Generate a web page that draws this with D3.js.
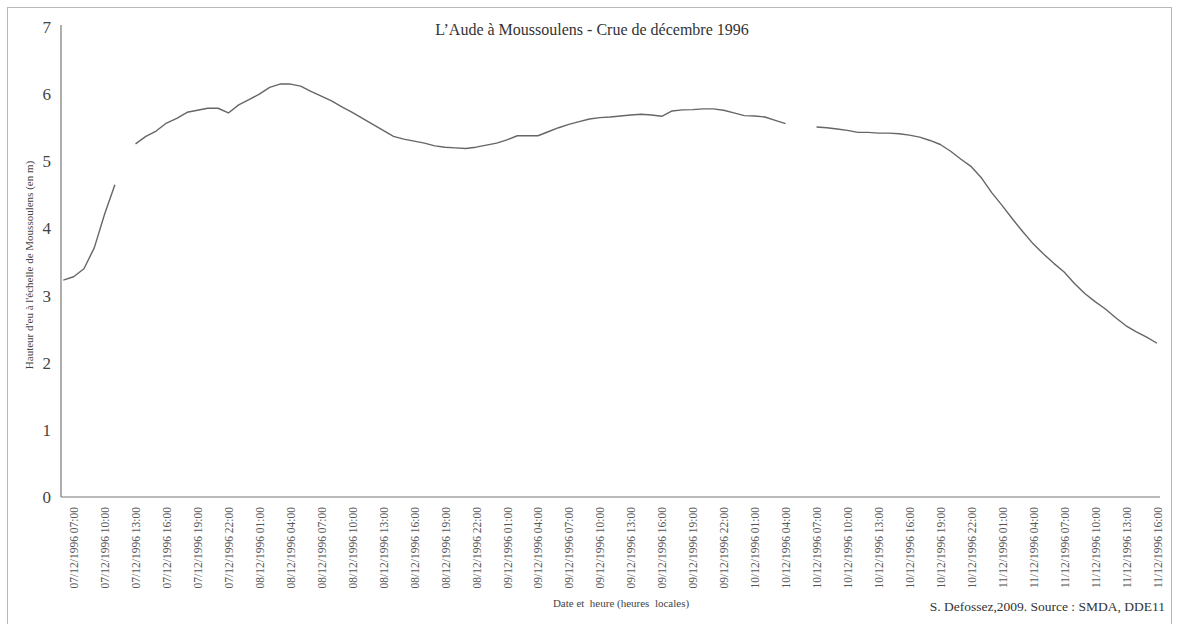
<!DOCTYPE html>
<html>
<head>
<meta charset="utf-8">
<script src="https://cdn.jsdelivr.net/npm/d3@7"></script>
<style>
    body { margin: 0; background: #fff; }
    svg { display: block; font-family: "Liberation Serif", "Times New Roman", serif; }
</style>
</head>
<body>
<svg width="1177" height="624"></svg>
<script>
// hauteurs relevees heure par heure, a partir du 07/12/1996 06:00 (null = pas de mesure)
var debut = "07/12/1996 06:00";
var jour07 = [3.23, 3.28, 3.40, 3.71, 4.21, 4.65, null, 5.26, 5.37, 5.45, 5.57, 5.64, 5.73, 5.76, 5.79, 5.79, 5.72, 5.84];
var jour08 = [5.92, 6.00, 6.10, 6.15, 6.15, 6.12, 6.04, 5.97, 5.90, 5.81, 5.73, 5.64, 5.55, 5.46, 5.37, 5.33, 5.30, 5.27, 5.23, 5.21, 5.20, 5.19, 5.21, 5.24];
var jour09 = [5.27, 5.32, 5.38, 5.38, 5.38, 5.44, 5.50, 5.55, 5.59, 5.63, 5.65, 5.66, 5.675, 5.69, 5.70, 5.69, 5.67, 5.75, 5.765, 5.77, 5.78, 5.78, 5.76, 5.72];
var jour10 = [5.68, 5.675, 5.66, 5.61, 5.56, null, null, 5.51, 5.50, 5.48, 5.46, 5.43, 5.43, 5.42, 5.42, 5.41, 5.39, 5.36, 5.31, 5.25, 5.15, 5.03, 4.92, 4.75];
var jour11 = [4.53, 4.34, 4.14, 3.95, 3.77, 3.62, 3.48, 3.35, 3.18, 3.03, 2.91, 2.80, 2.67, 2.55, 2.46, 2.38, 2.29];
var yTicks = [0, 1, 2, 3, 4, 5, 6, 7];
var pasEtiquettes = 3; // une etiquette toutes les 3 heures, a partir de 07:00

var serif = '"Liberation Serif", "Times New Roman", serif';

window.onload = function(){ drawChart() }
function drawChart() {
    var svg = d3.select("svg");
    var parse = d3.timeParse("%d/%m/%Y %H:%M"),
        fmt = d3.timeFormat("%d/%m/%Y %H:%M");
    var t0 = parse(debut);

    var valeurs = jour07.concat(jour08, jour09, jour10, jour11);
    var data = valeurs.map(function (v, i) {
        return { t: d3.timeHour.offset(t0, i), v: v };
    });

    var x = d3.scaleTime()
        .domain([t0, data[data.length - 1].t])
        .range([63.3, 1157]);
    var y = d3.scaleLinear().domain([0, 7]).range([497, 27]);

    // cadre
    svg.append("rect")
        .attr("x", 7.5).attr("y", 7.5)
        .attr("width", 1164).attr("height", 640)
        .attr("fill", "none")
        .attr("stroke", "#b8b8b8");

    svg.append("text")
        .attr("x", 592).attr("y", 35)
        .attr("text-anchor", "middle")
        .style("font-size", "16px")
        .style("fill", "#333")
        .text("L\u2019Aude \u00e0 Moussoulens - Crue de d\u00e9cembre 1996");

    // axe Y
    var yAxis = svg.append("g")
        .attr("transform", "translate(61,0)")
        .call(d3.axisLeft(y).tickValues(yTicks).tickFormat(d3.format("d")).tickSize(0).tickPadding(10));
    yAxis.attr("font-family", serif).attr("font-size", 17);
    yAxis.select(".domain").remove();
    yAxis.selectAll("text").attr("fill", "#444");
    svg.append("line")
        .attr("x1", 61).attr("x2", 61)
        .attr("y1", 25).attr("y2", y(0))
        .attr("stroke", "#777").attr("stroke-width", 1.2);

    svg.append("text")
        .attr("transform", "translate(33,265) rotate(-90)")
        .attr("text-anchor", "middle")
        .style("font-size", "11px")
        .style("fill", "#444")
        .text("Hauteur d'eu \u00e0 l'\u00e9chelle de Moussoulens (en m)");

    // axe X
    var tickVals = d3.range(1, data.length, pasEtiquettes).map(function (i) { return data[i].t; });
    var xAxis = svg.append("g")
        .attr("transform", "translate(0," + y(0) + ")")
        .call(d3.axisBottom(x).tickValues(tickVals).tickFormat(fmt).tickSize(0));
    xAxis.attr("font-family", serif).attr("font-size", 11.5);
    xAxis.select(".domain").remove();
    xAxis.selectAll("text")
        .attr("transform", "rotate(-90)")
        .attr("x", -10).attr("y", 0)
        .attr("dy", "0.35em")
        .attr("text-anchor", "end")
        .attr("fill", "#555");
    svg.append("line")
        .attr("x1", 61).attr("x2", 1160)
        .attr("y1", y(0)).attr("y2", y(0))
        .attr("stroke", "#777").attr("stroke-width", 1.2);

    svg.append("text")
        .attr("x", 621).attr("y", 607)
        .attr("text-anchor", "middle")
        .style("font-size", "11px")
        .style("fill", "#444")
        .style("white-space", "pre")
        .text("Date et  heure (heures  locales)");

    svg.append("text")
        .attr("x", 1165).attr("y", 611)
        .attr("text-anchor", "end")
        .style("font-size", "13.5px")
        .style("fill", "#333")
        .text("S. Defossez,2009. Source : SMDA, DDE11");

    // courbe
    var line = d3.line()
        .defined(function (d) { return d.v !== null; })
        .x(function (d) { return x(d.t); })
        .y(function (d) { return y(d.v); });

    svg.append("path")
        .datum(data)
        .attr("fill", "none")
        .attr("stroke", "#666")
        .attr("stroke-width", 1.4)
        .attr("stroke-linejoin", "round")
        .attr("d", line);
}
</script>
</body>
</html>
